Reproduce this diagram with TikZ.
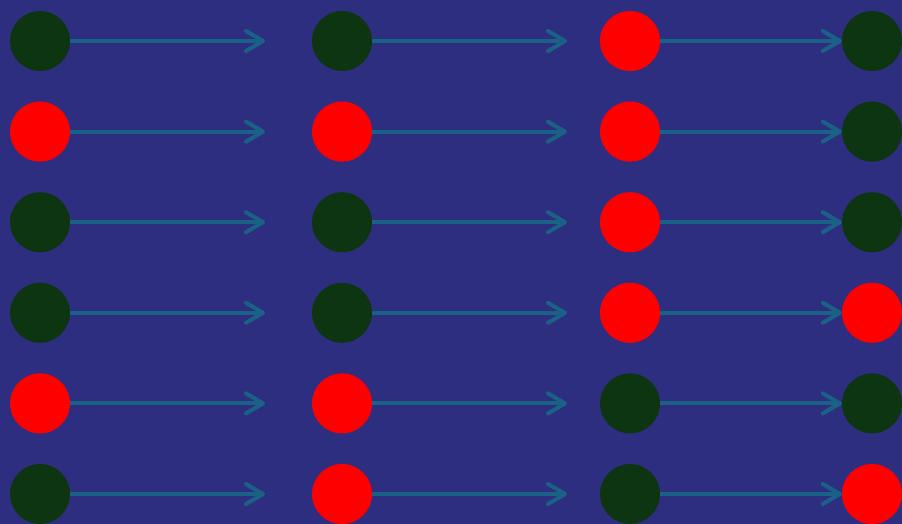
\documentclass[tikz,border=0pt]{standalone}
\usetikzlibrary{arrows.meta}
\definecolor{bgc}{HTML}{2E2E80}
\definecolor{dgreen}{HTML}{0E3512}
\definecolor{rred}{HTML}{FF0000}
\definecolor{arrc}{HTML}{1A6285}
\tikzset{
  dot/.style={circle,minimum size=60pt,inner sep=0pt,draw=none},
  gdot/.style={dot,fill=dgreen},
  rdot/.style={dot,fill=rred},
  conn/.style={draw=arrc,line width=4pt,-{Straight Barb[length=17pt,width=20pt,line cap=round,round]}},
}
\begin{document}
\begin{tikzpicture}[x=1pt,y=-1pt]
\fill[bgc] (0,0) rectangle (902,524);
\useasboundingbox (0,0) rectangle (902,524);
\def\ys{{41,131.6,222.2,312.8,403.4,494}}
\foreach \r/\a/\b/\c/\d in {0/g/g/r/g,1/r/r/r/g,2/g/g/r/g,3/g/g/r/r,4/r/r/g/g,5/g/r/g/r}{
  \pgfmathsetmacro{\yy}{\ys[\r]}
  \node[\a dot] (a\r) at (40,\yy) {};
  \node[\b dot] (b\r) at (342,\yy) {};
  \node[\c dot] (c\r) at (630,\yy) {};
  \node[\d dot] (d\r) at (872,\yy) {};
  \coordinate (ea\r) at (265,\yy);
  \coordinate (eb\r) at (567,\yy);
  \draw[conn] (a\r.east) -- (ea\r);
  \draw[conn] (b\r.east) -- (eb\r);
  \draw[conn] (c\r.east) -- (d\r.west);
}
\end{tikzpicture}
\end{document}
